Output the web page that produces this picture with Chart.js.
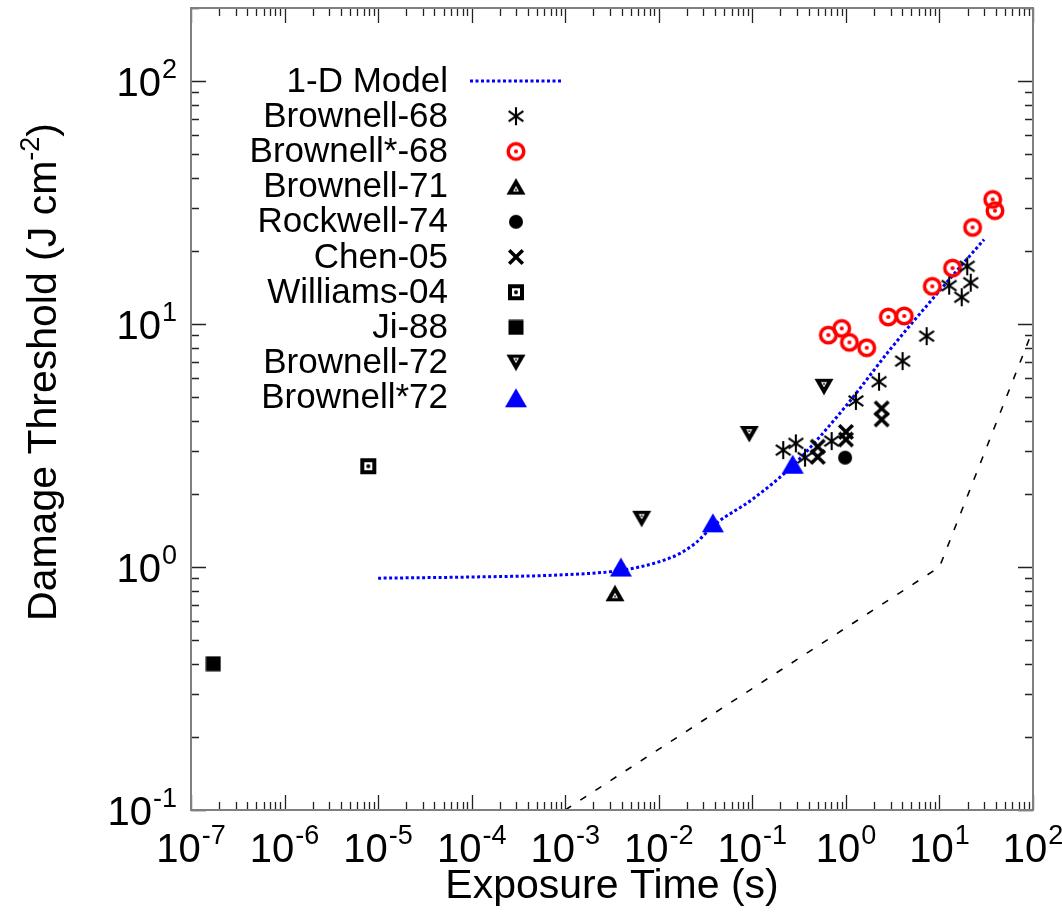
<!DOCTYPE html>
<html>
<head>
<meta charset="utf-8">
<script src="https://cdn.jsdelivr.net/npm/chart.js@4.4.0/dist/chart.umd.min.js"></script>
<style>
  html, body { margin: 0; padding: 0; background: #fff; }
  canvas { display: block; }
</style>
</head>
<body>
<canvas id="chart" width="1062" height="916"></canvas>
<script>
// ---- data ----
const modelTime      = [1e-5, 1e-4, 1e-3, 0.004, 0.01, 0.017, 0.025, 0.04, 0.1, 0.28, 1, 3, 10, 30];
const modelThreshold = [0.90, 0.91, 0.93, 0.97, 1.05, 1.14, 1.26, 1.50, 1.90, 2.65, 4.6, 7.9, 13.7, 22.3];

const limitTime      = [1e-3, 10, 100];
const limitThreshold = [0.1, 1.0, 9.5];

const brownell68Time      = [0.214, 0.292, 0.366, 0.705, 1.28, 2.26, 4.04, 7.30, 12.7, 19.8, 21.6, 17.3];
const brownell68Threshold = [3.03, 3.23, 2.82, 3.30, 4.83, 5.79, 7.04, 8.92, 14.4, 17.3, 14.8, 12.9];

const brownellStar68Time      = [0.649, 0.902, 1.09, 1.67, 2.84, 4.21, 8.38, 13.8, 22.6, 37.1, 39.2];
const brownellStar68Threshold = [9.01, 9.60, 8.41, 7.99, 10.7, 10.8, 14.3, 17.0, 25.0, 32.6, 29.3];

const brownell71Time      = [0.0034];
const brownell71Threshold = [0.78];

const rockwell74Time      = [0.98];
const rockwell74Threshold = [2.82];

const chen05Time      = [0.50, 0.50, 1.0, 1.0, 2.41, 2.41];
const chen05Threshold = [3.13, 2.84, 3.60, 3.35, 4.50, 4.05];

const williams04Time      = [7.85e-6];
const williams04Threshold = [2.60];

const ji88Time      = [1.73e-7];
const ji88Threshold = [0.40];

const brownell72Time      = [0.00656, 0.0927, 0.583];
const brownell72Threshold = [1.58, 3.53, 5.52];

const brownellStar72Time      = [0.00394, 0.0379, 0.27];
const brownellStar72Threshold = [1.0, 1.52, 2.65];

const xTickExponents = [-7, -6, -5, -4, -3, -2, -1, 0, 1, 2];
const yTickExponents = [-1, 0, 1, 2];

// ---- marker images ----
function marker(w, h, draw) {
  const c = document.createElement('canvas');
  c.width = w; c.height = h;
  draw(c.getContext('2d'), w / 2, h / 2);
  return c;
}

const asterisk = marker(22, 22, (g, cx, cy) => {
  g.strokeStyle = '#000'; g.lineWidth = 2.1;
  [90, 35, -35].forEach(a => {
    const r = 9, t = a * Math.PI / 180;
    g.beginPath();
    g.moveTo(cx - r * Math.cos(t), cy - r * Math.sin(t));
    g.lineTo(cx + r * Math.cos(t), cy + r * Math.sin(t));
    g.stroke();
  });
});

const ring = marker(22, 22, (g, cx, cy) => {
  g.strokeStyle = '#ff0000'; g.lineWidth = 3.5;
  g.beginPath(); g.arc(cx, cy, 7.8, 0, Math.PI * 2); g.stroke();
  g.fillStyle = '#ff0000';
  g.beginPath(); g.arc(cx, cy, 2.1, 0, Math.PI * 2); g.fill();
});

const triUpDots = marker(20, 18, (g) => {
  g.fillStyle = '#000';
  g.beginPath(); g.moveTo(10, 0.5); g.lineTo(19.5, 17); g.lineTo(0.5, 17); g.closePath(); g.fill();
  g.fillStyle = '#fff';
  g.beginPath(); g.moveTo(10, 8.5); g.lineTo(13, 13.8); g.lineTo(7, 13.8); g.closePath(); g.fill();
  g.fillStyle = '#000';
  g.fillRect(9.2, 11.2, 1.6, 1.6);
});

const dot = marker(16, 16, (g, cx, cy) => {
  g.fillStyle = '#000';
  g.beginPath(); g.arc(cx, cy, 7, 0, Math.PI * 2); g.fill();
});

const cross = marker(20, 20, (g, cx, cy) => {
  g.strokeStyle = '#000'; g.lineWidth = 3.5;
  const r = 6.8;
  g.beginPath();
  g.moveTo(cx - r, cy - r); g.lineTo(cx + r, cy + r);
  g.moveTo(cx + r, cy - r); g.lineTo(cx - r, cy + r);
  g.stroke();
});

const boxDot = marker(18, 18, (g, cx, cy) => {
  g.fillStyle = '#000'; g.fillRect(1, 1, 16, 16);
  g.fillStyle = '#fff'; g.fillRect(5, 5, 8, 8);
  g.fillStyle = '#000';
  g.beginPath(); g.arc(cx, cy, 2, 0, Math.PI * 2); g.fill();
});

const box = marker(16, 16, (g) => {
  g.fillStyle = '#000'; g.fillRect(0.5, 0.5, 15, 15);
});

const triDownDots = marker(20, 18, (g) => {
  g.fillStyle = '#000';
  g.beginPath(); g.moveTo(0.5, 1); g.lineTo(19.5, 1); g.lineTo(10, 17.5); g.closePath(); g.fill();
  g.fillStyle = '#fff';
  g.beginPath(); g.moveTo(7, 4.2); g.lineTo(13, 4.2); g.lineTo(10, 9.6); g.closePath(); g.fill();
  g.fillStyle = '#000';
  g.fillRect(9.2, 5.3, 1.6, 1.6);
});

const blueTri = marker(24, 21, (g) => {
  g.fillStyle = '#0000ff';
  g.beginPath(); g.moveTo(12, 1); g.lineTo(23, 20); g.lineTo(1, 20); g.closePath(); g.fill();
});

function pts(xs, ys) {
  return xs.map((x, i) => ({ x: x, y: ys[i] }));
}

function pointSet(label, xs, ys, img) {
  return {
    label: label,
    data: pts(xs, ys),
    pointStyle: img,
    pointRadius: 6,
    showLine: false,
    order: 1
  };
}

const datasets = [
  {
    label: '1-D Model',
    data: pts(modelTime, modelThreshold),
    showLine: true,
    borderColor: '#0000ff',
    borderWidth: 3,
    borderDash: [3, 2.5],
    pointRadius: 0,
    tension: 0.35,
    cubicInterpolationMode: 'monotone',
    order: 5
  },
  pointSet('Brownell-68', brownell68Time, brownell68Threshold, asterisk),
  pointSet('Brownell*-68', brownellStar68Time, brownellStar68Threshold, ring),
  pointSet('Brownell-71', brownell71Time, brownell71Threshold, triUpDots),
  pointSet('Rockwell-74', rockwell74Time, rockwell74Threshold, dot),
  pointSet('Chen-05', chen05Time, chen05Threshold, cross),
  pointSet('Williams-04', williams04Time, williams04Threshold, boxDot),
  pointSet('Ji-88', ji88Time, ji88Threshold, box),
  pointSet('Brownell-72', brownell72Time, brownell72Threshold, triDownDots),
  pointSet('Brownell*72', brownellStar72Time, brownellStar72Threshold, blueTri),
  {
    label: '',
    data: pts(limitTime, limitThreshold),
    showLine: true,
    borderColor: '#000',
    borderWidth: 1.6,
    borderDash: [7, 11],
    pointRadius: 0,
    order: 6
  }
];

const FONT = '"Liberation Sans", Arial, sans-serif';

function drawPower(ctx, exp, x, y, align) {
  // "10" with a raised exponent; y = vertical middle of "10"
  ctx.font = '40px ' + FONT;
  const wb = ctx.measureText('10').width;
  ctx.font = '27px ' + FONT;
  const sup = exp < 0 ? '-' + (-exp) : String(exp);
  const ws = ctx.measureText(sup).width;
  const total = wb + ws + 1;
  const left = align === 'right' ? x - total : x - total / 2;
  ctx.textAlign = 'left';
  ctx.textBaseline = 'alphabetic';
  ctx.font = '40px ' + FONT;
  ctx.fillText('10', left, y + 14);
  ctx.font = '27px ' + FONT;
  ctx.fillText(sup, left + wb + 1, y - 4);
}

const frame = {
  id: 'frame',
  afterDatasetsDraw(chart) {
    const ctx = chart.ctx;
    const a = chart.chartArea;
    const xs = chart.scales.x, ys = chart.scales.y;
    ctx.save();

    // inward ticks on all four sides
    ctx.strokeStyle = '#222';
    ctx.lineWidth = 1.3;
    ctx.beginPath();
    xTickExponents.forEach(e => {
      for (let k = 1; k <= 9; k++) {
        const v = k * Math.pow(10, e);
        if (v > xs.max * 1.0001) break;
        const px = Math.round(xs.getPixelForValue(v)) + 0.5;
        const len = k === 1 ? 15 : 8;
        ctx.moveTo(px, a.bottom); ctx.lineTo(px, a.bottom - len);
        ctx.moveTo(px, a.top); ctx.lineTo(px, a.top + len);
      }
    });
    yTickExponents.forEach(e => {
      for (let k = 1; k <= 9; k++) {
        const v = k * Math.pow(10, e);
        if (v > ys.max * 1.0001) break;
        const py = Math.round(ys.getPixelForValue(v)) + 0.5;
        const len = k === 1 ? 15 : 8;
        ctx.moveTo(a.left, py); ctx.lineTo(a.left + len, py);
        ctx.moveTo(a.right, py); ctx.lineTo(a.right - len, py);
      }
    });
    ctx.stroke();

    // frame
    ctx.strokeStyle = '#808080';
    ctx.lineWidth = 2;
    ctx.strokeRect(a.left, a.top, a.right - a.left, a.bottom - a.top);

    // tick labels
    ctx.fillStyle = '#000';
    xTickExponents.forEach(e => {
      drawPower(ctx, e, xs.getPixelForValue(Math.pow(10, e)), 848, 'center');
    });
    yTickExponents.forEach(e => {
      drawPower(ctx, e, 177, ys.getPixelForValue(Math.pow(10, e)) + 1, 'right');
    });

    // axis titles
    ctx.font = '41px ' + FONT;
    ctx.textAlign = 'center';
    ctx.textBaseline = 'middle';
    ctx.fillText('Exposure Time (s)', 612, 887);

    ctx.save();
    ctx.translate(42, 372);
    ctx.rotate(-Math.PI / 2);
    const t1 = 'Damage Threshold (J cm', t2 = '-2', t3 = ')';
    ctx.font = '41px ' + FONT;
    const w1 = ctx.measureText(t1).width, w3 = ctx.measureText(t3).width;
    ctx.font = '27px ' + FONT;
    const w2 = ctx.measureText(t2).width;
    const sx = -(w1 + w2 + w3) / 2;
    ctx.textAlign = 'left';
    ctx.textBaseline = 'alphabetic';
    ctx.font = '41px ' + FONT;
    ctx.fillText(t1, sx, 14);
    ctx.font = '27px ' + FONT;
    ctx.fillText(t2, sx + w1, -3);
    ctx.font = '41px ' + FONT;
    ctx.fillText(t3, sx + w1 + w2, 14);
    ctx.restore();

    // legend
    const rowY0 = 81, rowStep = 35.2;
    ctx.font = '35px ' + FONT;
    ctx.textAlign = 'right';
    ctx.textBaseline = 'middle';
    datasets.slice(0, 10).forEach((ds, i) => {
      const y = rowY0 + i * rowStep;
      ctx.fillStyle = '#000';
      ctx.fillText(ds.label, 448, y + 1);
      if (ds.showLine) {
        ctx.save();
        ctx.strokeStyle = ds.borderColor;
        ctx.lineWidth = ds.borderWidth;
        ctx.setLineDash(ds.borderDash);
        ctx.beginPath(); ctx.moveTo(470, y); ctx.lineTo(562, y); ctx.stroke();
        ctx.restore();
      } else {
        const img = ds.pointStyle;
        ctx.drawImage(img, 516 - img.width / 2, y - img.height / 2);
      }
    });
    ctx.restore();
  }
};

new Chart(document.getElementById('chart'), {
  type: 'scatter',
  data: { datasets: datasets },
  options: {
    responsive: false,
    animation: false,
    layout: { padding: { left: 191, right: 29, top: 8, bottom: 106 } },
    plugins: { legend: { display: false }, tooltip: { enabled: false } },
    scales: {
      x: { type: 'logarithmic', min: 1e-7, max: 100, display: false },
      y: { type: 'logarithmic', min: 0.1, max: 200, display: false }
    }
  },
  plugins: [frame]
});
</script>
</body>
</html>
